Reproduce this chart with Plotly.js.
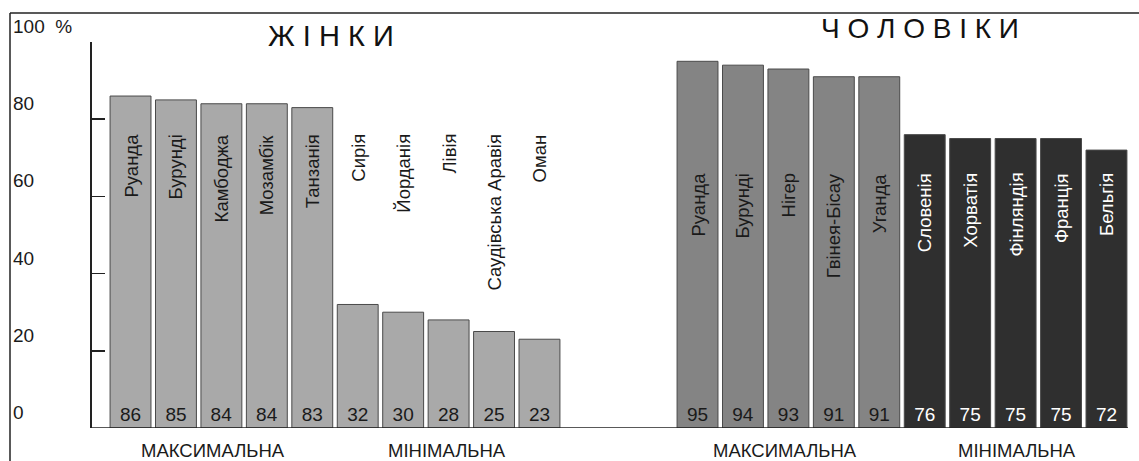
<!DOCTYPE html>
<html>
<head>
<meta charset="utf-8">
<script src="https://cdn.plot.ly/plotly-3.0.1.min.js"></script>
<style>
  html, body { margin: 0; padding: 0; background: #ffffff; }
  #chart { width: 1139px; height: 461px; }
</style>
</head>
<body>
<div id="chart"></div>
<script>
// ---- data ----
const womenMaxCountries = ['Руанда', 'Бурунді', 'Камбоджа', 'Мозамбік', 'Танзанія'];
const womenMaxValues = [86, 85, 84, 84, 83];
const womenMinCountries = ['Сирія', 'Йорданія', 'Лівія', 'Саудівська Аравія', 'Оман'];
const womenMinValues = [32, 30, 28, 25, 23];
const menMaxCountries = ['Руанда', 'Бурунді', 'Нігер', 'Гвінея-Бісау', 'Уганда'];
const menMaxValues = [95, 94, 93, 91, 91];
const menMinCountries = ['Словенія', 'Хорватія', 'Фінляндія', 'Франція', 'Бельгія'];
const menMinValues = [76, 75, 75, 75, 72];
const yTickValues = [0, 20, 40, 60, 80, 100];
const yTickLabels = ['0', '20', '40', '60', '80', '100  %'];
const groupTitles = ['ЖІНКИ', 'ЧОЛОВІКИ'];
const groupLabels = ['МАКСИМАЛЬНА', 'МІНІМАЛЬНА', 'МАКСИМАЛЬНА', 'МІНІМАЛЬНА'];

// ---- layout constants ----
const W = 1139, H = 461, T = 42, B = 33;
const plotH = H - T - B;
const Y_MAX = 100;
const px = v => v / W;                   // x pixel -> paper
const py = p => (H - B - p) / plotH;     // y pixel -> paper
const FONT = 'Liberation Sans, Arial, sans-serif';

const womenCats = womenMaxCountries.concat(womenMinCountries);
const menCats = menMaxCountries.concat(menMinCountries);

function barTrace(xs, ys, xaxis, fill, textColor) {
  return {
    type: 'bar', x: xs, y: ys, xaxis: xaxis, yaxis: 'y',
    marker: { color: fill, line: { color: '#4a4a4a', width: 1 } },
    text: ys.map(String), textposition: 'inside', insidetextanchor: 'start',
    textangle: 0, constraintext: 'none',
    textfont: { family: FONT, size: 19, color: textColor },
    hoverinfo: 'skip', showlegend: false
  };
}

const data = [
  barTrace(womenMaxCountries, womenMaxValues, 'x', '#a9a9a9', '#1a1a1a'),
  barTrace(womenMinCountries, womenMinValues, 'x', '#a9a9a9', '#1a1a1a'),
  barTrace(menMaxCountries, menMaxValues, 'x2', '#848484', '#1a1a1a'),
  barTrace(menMinCountries, menMinValues, 'x2', '#2f2f2f', '#ffffff')
];

const annotations = [];
// country names (rotated)
function nameAnn(cat, xref, yTopPx, color) {
  annotations.push({
    x: cat, xref: xref, y: py(yTopPx), yref: 'paper',
    text: cat, textangle: -90, showarrow: false,
    xanchor: 'center', yanchor: 'top',
    font: { family: FONT, size: 18.5, color: color }
  });
}
womenCats.forEach(c => nameAnn(c, 'x', 132, '#1a1a1a'));
menMaxCountries.forEach(c => nameAnn(c, 'x2', 171, '#1a1a1a'));
menMinCountries.forEach(c => nameAnn(c, 'x2', 171, '#ffffff'));

// left-side scale labels (set slightly above their ticks as in the original)
yTickValues.forEach((v, i) => {
  annotations.push({
    x: px(11), xref: 'paper', y: (v + 4) / Y_MAX, yref: 'paper',
    text: yTickLabels[i], showarrow: false,
    xanchor: 'left', yanchor: 'middle',
    font: { family: FONT, size: 19, color: '#1a1a1a' }
  });
});

// big titles
const titleSpaced = s => s.split('').join(' ');
annotations.push({
  x: px(331), xref: 'paper', y: py(36), yref: 'paper',
  text: titleSpaced(groupTitles[0]), showarrow: false,
  xanchor: 'center', yanchor: 'middle',
  font: { family: FONT, size: 29, color: '#111111' }
});
annotations.push({
  x: px(920), xref: 'paper', y: py(28), yref: 'paper',
  text: titleSpaced(groupTitles[1]), showarrow: false,
  xanchor: 'center', yanchor: 'middle',
  font: { family: FONT, size: 28, color: '#111111' }
});

// group labels below the baseline
const groupCentersPx = [213, 447, 785, 1017];
groupLabels.forEach((g, i) => {
  annotations.push({
    x: px(groupCentersPx[i]), xref: 'paper', y: py(450), yref: 'paper',
    text: g, showarrow: false, xanchor: 'center', yanchor: 'middle',
    font: { family: FONT, size: 18.5, color: '#1a1a1a' }
  });
});

const shapes = [
  // baseline
  { type: 'line', xref: 'paper', yref: 'y', x0: px(90), x1: px(1128), y0: 0, y1: 0,
    line: { color: '#222222', width: 1.5 } },
  // frame: top and left border
  { type: 'line', xref: 'paper', yref: 'paper', x0: px(10), x1: px(1139), y0: py(13), y1: py(13),
    line: { color: '#222222', width: 1.5 } },
  { type: 'line', xref: 'paper', yref: 'paper', x0: px(10), x1: px(10), y0: py(13), y1: py(461),
    line: { color: '#222222', width: 1.5 } }
];

const layout = {
  width: W, height: H,
  margin: { l: 0, r: 0, t: T, b: B, pad: 0 },
  paper_bgcolor: '#ffffff', plot_bgcolor: 'rgba(0,0,0,0)',
  barmode: 'overlay', bargap: 0.1,
  showlegend: false,
  font: { family: FONT, color: '#1a1a1a' },
  xaxis: {
    domain: [px(107.8), px(562.2)], type: 'category',
    categoryorder: 'array', categoryarray: womenCats,
    showticklabels: false, ticks: '', showline: false, showgrid: false, zeroline: false,
    fixedrange: true
  },
  xaxis2: {
    domain: [px(674.8), px(1129.2)], type: 'category', anchor: 'y',
    categoryorder: 'array', categoryarray: menCats,
    showticklabels: false, ticks: '', showline: false, showgrid: false, zeroline: false,
    fixedrange: true
  },
  yaxis: {
    range: [0, Y_MAX], anchor: 'free', position: px(90),
    showline: true, linecolor: '#222222', linewidth: 1.5,
    ticks: 'inside', ticklen: 13, tickwidth: 1.5, tickcolor: '#222222',
    tickvals: yTickValues, showticklabels: false,
    showgrid: false, zeroline: false, fixedrange: true
  },
  annotations: annotations,
  shapes: shapes
};

Plotly.newPlot('chart', data, layout, { displayModeBar: false, staticPlot: true });
</script>
</body>
</html>
